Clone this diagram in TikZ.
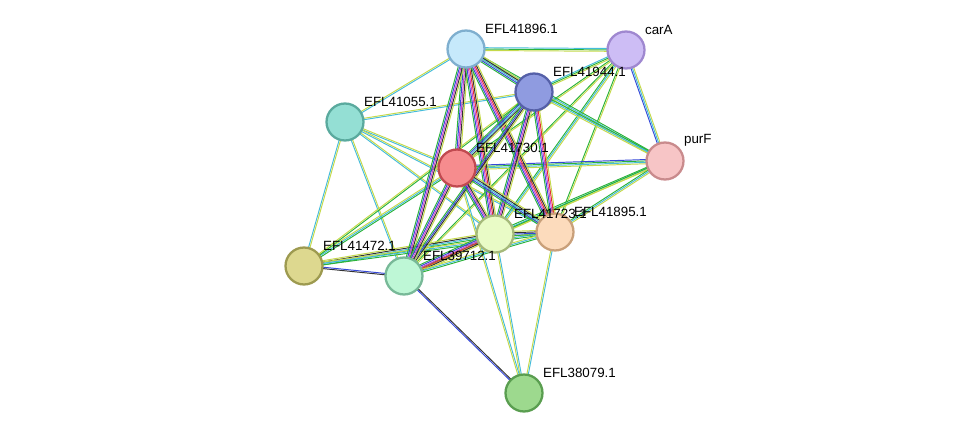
\documentclass[tikz,border=0pt]{standalone}
\usepackage{fontspec}
\setsansfont{Liberation Sans}
\usetikzlibrary{calc, backgrounds, positioning}
\definecolor{tmine}{HTML}{C5D94A}
\definecolor{dbase}{HTML}{45BCDB}
\definecolor{exper}{HTML}{CF3FCF}
\definecolor{coexp}{HTML}{333333}
\definecolor{neigh}{HTML}{2BB33B}
\definecolor{fusn}{HTML}{E03030}
\definecolor{cooc}{HTML}{3548D8}
\tikzstyle{pnode} = [%
  circle,
  draw,
  line width=1.3pt,
  minimum size=0.74cm,
  inner sep=0pt
]
\tikzstyle{plabel} = [%
  font=\sffamily\fontsize{7.6}{9}\selectfont,
  text=black,
  inner sep=1pt
]
% parallel coloured lines between two nodes
\newcommand{\lnk}[4]{%
  \foreach \c [count=\i] in {#3}{%
    \pgfmathsetmacro{\off}{(\i-(#4+1)/2)*0.8}
    \draw[\c, line width=0.55pt]
      ($(#1.center)!\off pt!90:(#2.center)$) -- ($(#2.center)!\off pt!-90:(#1.center)$);
  }%
}
\begin{document}
\begin{tikzpicture}[x=0.02cm,y=-0.02cm]
  \useasboundingbox (0,0) rectangle (975,439);

  % Nodes
  \node[pnode,fill={rgb,255:red,198;green,233;blue,251},draw={rgb,255:red,127;green,175;blue,207}] (N896) at (466,49) {};
  \node[pnode,fill={rgb,255:red,205;green,189;blue,245},draw={rgb,255:red,159;green,136;blue,208}] (NcarA) at (626,50) {};
  \node[pnode,fill={rgb,255:red,143;green,155;blue,224},draw={rgb,255:red,85;green,96;blue,168}] (N944) at (534,92) {};
  \node[pnode,fill={rgb,255:red,148;green,223;blue,212},draw={rgb,255:red,90;green,170;blue,158}] (N055) at (345,122) {};
  \node[pnode,fill={rgb,255:red,247;green,197;blue,198},draw={rgb,255:red,201;green,139;blue,141}] (NpurF) at (665,161) {};
  \node[pnode,fill={rgb,255:red,246;green,140;blue,142},draw={rgb,255:red,193;green,74;blue,80}] (N730) at (457,168) {};
  \node[pnode,fill={rgb,255:red,252;green,219;blue,188},draw={rgb,255:red,201;green,160;blue,122}] (N895) at (555,232) {};
  \node[pnode,fill={rgb,255:red,233;green,251;blue,198},draw={rgb,255:red,165;green,185;blue,122}] (N723) at (495,234) {};
  \node[pnode,fill={rgb,255:red,221;green,216;blue,143},draw={rgb,255:red,157;green,154;blue,80}] (N472) at (304,266) {};
  \node[pnode,fill={rgb,255:red,190;green,247;blue,214},draw={rgb,255:red,120;green,185;blue,152}] (N712) at (404,276) {};
  \node[pnode,fill={rgb,255:red,157;green,217;blue,142},draw={rgb,255:red,90;green,158;blue,80}] (N079) at (524,393) {};

  % Labels
  \node[plabel,anchor=south west] at ($(N896)+(17,-13)$) {EFL41896.1};
  \node[plabel,anchor=south west] at ($(NcarA)+(17,-13)$) {carA};
  \node[plabel,anchor=south west] at ($(N944)+(17,-13)$) {EFL41944.1};
  \node[plabel,anchor=south west] at ($(N055)+(17,-13)$) {EFL41055.1};
  \node[plabel,anchor=south west] at ($(NpurF)+(17,-13)$) {purF};
  \node[plabel,anchor=south west] at ($(N730)+(17,-13)$) {EFL41730.1};
  \node[plabel,anchor=south west] at ($(N895)+(17,-13)$) {EFL41895.1};
  \node[plabel,anchor=south west] at ($(N723)+(17,-13)$) {EFL41723.1};
  \node[plabel,anchor=south west] at ($(N472)+(17,-13)$) {EFL41472.1};
  \node[plabel,anchor=south west] at ($(N712)+(17,-13)$) {EFL39712.1};
  \node[plabel,anchor=south west] at ($(N079)+(17,-13)$) {EFL38079.1};

  \begin{scope}[on background layer]
    % Light edges
    \lnk{N055}{N896}{dbase,tmine}{2}
    \lnk{N055}{N944}{dbase,tmine}{2}
    \lnk{N055}{N730}{dbase,tmine}{2}
    \lnk{N055}{N723}{dbase,tmine}{2}
    \lnk{N055}{N712}{dbase,tmine}{2}
    \lnk{N055}{N472}{dbase,tmine}{2}
    \lnk{N055}{N895}{dbase,tmine}{2}
    \lnk{NcarA}{N896}{dbase,neigh,tmine}{3}
    \lnk{NcarA}{N944}{dbase,neigh,tmine}{3}
    \lnk{NcarA}{NpurF}{cooc,dbase,tmine}{3}
    \lnk{NcarA}{N730}{neigh,tmine}{2}
    \lnk{NcarA}{N723}{neigh,dbase,tmine}{3}
    \lnk{NcarA}{N712}{neigh,tmine}{2}
    \lnk{NcarA}{N895}{neigh,tmine}{2}
    \lnk{NpurF}{N896}{neigh,dbase,tmine}{3}
    \lnk{NpurF}{N944}{neigh,dbase,tmine}{3}
    \lnk{NpurF}{N730}{cooc,neigh,dbase,tmine}{4}
    \lnk{NpurF}{N723}{neigh,dbase,tmine}{3}
    \lnk{NpurF}{N895}{neigh,dbase,tmine}{3}
    \lnk{NpurF}{N712}{neigh,tmine}{2}
    \lnk{N472}{N712}{coexp,cooc}{2}
    \lnk{N472}{N730}{neigh,dbase,tmine}{3}
    \lnk{N472}{N723}{neigh,dbase,coexp,tmine}{4}
    \lnk{N472}{N895}{neigh,dbase,tmine}{3}
    \lnk{N472}{N944}{neigh,tmine}{2}
    \lnk{N079}{N712}{coexp,cooc}{2}
    \lnk{N079}{N723}{dbase,tmine}{2}
    \lnk{N079}{N895}{dbase,tmine}{2}
    \lnk{N079}{N730}{dbase,tmine}{2}
    % Rich edges
    \lnk{N896}{N944}{neigh,cooc,dbase,coexp,tmine}{5}
    \lnk{N896}{N730}{neigh,cooc,exper,coexp,tmine}{5}
    \lnk{N896}{N723}{neigh,cooc,exper,fusn,coexp,tmine}{6}
    \lnk{N896}{N895}{neigh,cooc,exper,fusn,coexp,tmine}{6}
    \lnk{N896}{N712}{neigh,cooc,exper,coexp,tmine}{5}
    \lnk{N944}{N730}{neigh,cooc,dbase,coexp,tmine}{5}
    \lnk{N944}{N723}{neigh,cooc,exper,coexp,tmine}{5}
    \lnk{N944}{N895}{neigh,cooc,exper,fusn,tmine}{5}
    \lnk{N944}{N712}{neigh,cooc,coexp,tmine}{4}
    \lnk{N730}{N723}{neigh,cooc,exper,coexp,tmine}{5}
    \lnk{N730}{N895}{neigh,cooc,dbase,coexp,tmine}{5}
    \lnk{N730}{N712}{neigh,cooc,exper,coexp,tmine}{5}
    \lnk{N723}{N895}{neigh,cooc,coexp,tmine}{4}
    \lnk{N723}{N712}{neigh,cooc,exper,fusn,coexp,tmine}{6}
    \lnk{N712}{N895}{neigh,dbase,tmine}{3}
  \end{scope}
\end{tikzpicture}
\end{document}
